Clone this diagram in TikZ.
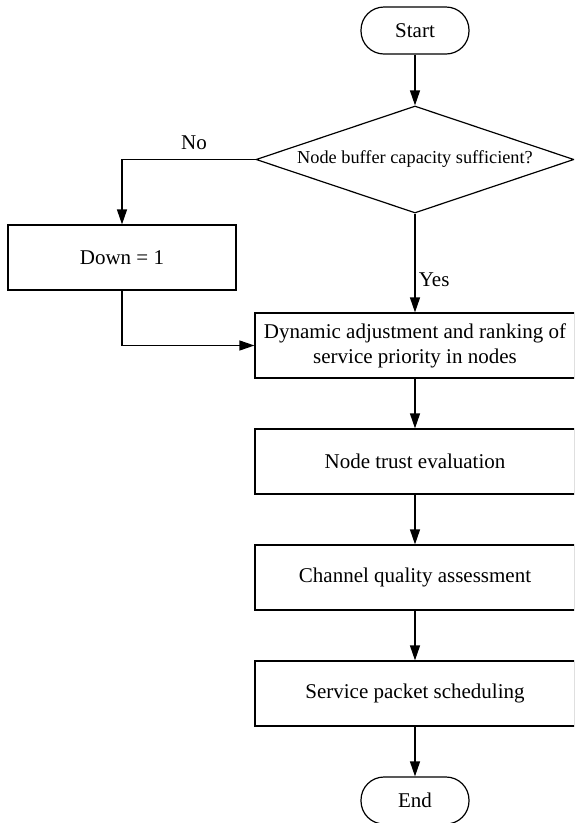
\documentclass[tikz,border=0pt]{standalone}
\usepackage{fontspec}
\setmainfont{Liberation Serif}
\usetikzlibrary{shapes.geometric,arrows.meta}
\begin{document}
\begin{tikzpicture}[x=1pt,y=-1pt,
  every node/.style={font=\fontsize{21}{25}\selectfont},
  box/.style={draw,line width=1.2pt,minimum width=#1,minimum height=65pt,inner sep=0pt},
  term/.style={draw,line width=1.2pt,minimum width=108pt,minimum height=47pt,rounded corners=23pt,inner sep=0pt},
  conn/.style={line width=1.2pt,-{Triangle[length=15pt,width=10pt]}},
  lbl/.style={font=\fontsize{21}{25}\selectfont}]
\useasboundingbox (0,0) rectangle (574,823);
\clip (0,0) rectangle (574,823);
\node[term] (start) at (415,30.5) {Start};
\node[diamond,draw,line width=1.2pt,minimum width=318pt,minimum height=107pt,inner sep=0pt] (dec) at (415,159.5) {};
\node[font=\fontsize{18.3}{22}\selectfont] (dectext) at (dec.center) {Node buffer capacity sufficient?};
\node[box=228pt] (down) at (122,257.5) {Down = 1};
\node[box=320pt,align=center] (dyn) at (415,345.5) {Dynamic adjustment and ranking of\\service priority in nodes};
\node[box=320pt] (trust) at (415,461.5) {Node trust evaluation};
\node[box=320pt] (chan) at (415,577.5) {Channel quality assessment};
\node[box=320pt] (serv) at (415,693.5) {Service packet scheduling};
\node[term] (end) at (415,800.5) {End};
\draw[conn] (start) -- (dec.north);
\draw[conn] (dec.west) -| node[pos=0.23,above=6pt,lbl] (no) {No} (down.north);
\draw[conn] (down.south) |- (dyn.west);
\draw[conn] (dec.south) -- node[right,pos=0.67,lbl] (yes) {Yes} (dyn.north);
\draw[conn] (dyn) -- (trust);
\draw[conn] (trust) -- (chan);
\draw[conn] (chan) -- (serv);
\draw[conn] (serv) -- (end);
\end{tikzpicture}
\end{document}
